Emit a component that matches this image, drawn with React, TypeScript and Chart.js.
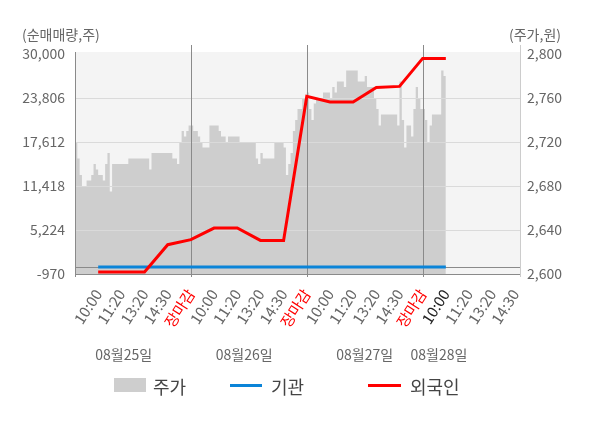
import React, { useEffect, useRef } from 'react'
import { Chart, registerables } from 'chart.js'

Chart.register(...registerables)

const FONT = "'Noto Sans CJK KR', 'Noto Sans', sans-serif"

// the x axis is split into slots: 10 slots between two time ticks
const SLOTS_PER_TICK = 10
const SLOT_COUNT = 193

const timeTicks = [
    '10:00', '11:20', '13:20', '14:30', '장마감',
    '10:00', '11:20', '13:20', '14:30', '장마감',
    '10:00', '11:20', '13:20', '14:30', '장마감',
    '10:00', '11:20', '13:20', '14:30'
]
const currentTick = 15
const dayLabels = ['08월25일', '08월26일', '08월27일', '08월28일']
const dayLabelSlots = [21, 73, 125, 157]
const daySplitSlots = [50, 100, 150]

const volumeTicks = [-970, 5224, 11418, 17612, 23806, 30000]
const priceTicks = [2600, 2640, 2680, 2720, 2760, 2800]

// 주가, one value per slot
const priceValues = [
    2720, 2705, 2690, 2680, 2680, 2685, 2685, 2690, 2700, 2695,
    2690, 2690, 2685, 2700, 2710, 2675, 2700, 2700, 2700, 2700,
    2700, 2700, 2700, 2705, 2705, 2705, 2705, 2705, 2705, 2705,
    2705, 2705, 2695, 2710, 2710, 2710, 2710, 2710, 2710, 2710,
    2710, 2710, 2705, 2705, 2700, 2720, 2730, 2725, 2730, 2735,
    2735, 2730, 2730, 2725, 2720, 2715, 2715, 2715, 2735, 2735,
    2735, 2735, 2730, 2725, 2725, 2720, 2725, 2725, 2725, 2725,
    2725, 2720, 2720, 2720, 2720, 2720, 2720, 2720, 2705, 2700,
    2710, 2705, 2705, 2705, 2705, 2705, 2720, 2720, 2720, 2720,
    2715, 2690, 2700, 2710, 2730, 2740, 2750, 2750, 2760, 2760,
    2765, 2750, 2740, 2755, 2760, 2760, 2760, 2765, 2765, 2765,
    2760, 2770, 2765, 2775, 2775, 2775, 2770, 2785, 2785, 2785,
    2785, 2785, 2775, 2775, 2775, 2780, 2770, 2770, 2770, 2760,
    2750, 2735, 2745, 2745, 2745, 2745, 2745, 2745, 2745, 2735,
    2775, 2740, 2715, 2735, 2735, 2725, 2750, 2770, 2760, 2750,
    2750, 2740, 2720, 2735, 2745, 2745, 2745, 2745, 2785, 2780,
    2780
]

// 외국인 / 기관 cumulative net volume, one value per time tick
const foreignValues = [
    -690, -690, -690, 3160, 3860, 5500, 5500, 3760,
    3760, 24030, 23240, 23240, 25300, 25440, 29380, 29380
]
const institutionValues = [
    0, 0, 0, 0, 0, 0, 0, 0,
    0, 0, 0, 0, 0, 0, 0, 0
]

const slotLabels = Array.from({ length: SLOT_COUNT }, (_, i) =>
    i > 0 && i % SLOTS_PER_TICK === 0 ? (timeTicks[i / SLOTS_PER_TICK - 1] ?? '') : ''
)

const atTicks = (values: number[]) => {
    const out: (number | null)[] = new Array(SLOT_COUNT).fill(null)
    values.forEach((v, k) => { out[(k + 1) * SLOTS_PER_TICK] = v })
    return out
}

const line = (ctx: CanvasRenderingContext2D, x1: number, y1: number, x2: number, y2: number, color: string) => {
    ctx.strokeStyle = color
    ctx.lineWidth = 1
    ctx.beginPath()
    ctx.moveTo(x1, y1)
    ctx.lineTo(x2, y2)
    ctx.stroke()
}

const decor = {
    id: 'decor',
    beforeDraw(chart: any) {
        const { ctx, chartArea: a } = chart
        ctx.save()
        ctx.fillStyle = '#f4f4f4'
        ctx.fillRect(a.left, a.top - 2, a.right - a.left, a.bottom - a.top + 2)
        ctx.restore()
    },
    afterDatasetDraw(chart: any, args: any) {
        if (args.index !== 0) return
        const { ctx, chartArea: a, scales } = chart
        const px = (v: number) => Math.round(v) + 0.5
        ctx.save()
        volumeTicks.slice(1, -1).forEach(v => {
            const y = px(scales.y.getPixelForValue(v))
            line(ctx, a.left, y, a.right, y, '#dadada')
        })
        const zero = px(scales.y.getPixelForValue(0))
        line(ctx, a.left, zero, a.right, zero, '#8a8a8a')
        daySplitSlots.forEach(s => {
            const x = px(scales.x.getPixelForValue(s))
            line(ctx, x, a.top - 9, x, a.bottom + 3, '#8a8a8a')
        })
        line(ctx, px(a.right), a.top - 9, px(a.right), a.bottom + 3, '#cccccc')
        line(ctx, px(a.left), a.top - 2, px(a.left), a.bottom + 3, '#8a8a8a')
        line(ctx, a.left, px(a.bottom), a.right, px(a.bottom), '#8a8a8a')
        ctx.restore()
    },
    afterDraw(chart: any) {
        const { ctx, scales } = chart
        ctx.save()
        ctx.textBaseline = 'middle'
        ctx.font = `14px ${FONT}`
        ctx.fillStyle = '#666'
        ctx.textAlign = 'left'
        ctx.fillText('(순매매량,주)', 22, 35)
        ctx.fillText('(주가,원)', 509, 35)
        ctx.textAlign = 'center'
        dayLabels.forEach((d, i) => {
            ctx.fillText(d, scales.x.getPixelForValue(dayLabelSlots[i]), 355)
        })

        // legend
        const ly = 385.5
        ctx.font = `18px ${FONT}`
        ctx.textAlign = 'left'
        ctx.fillStyle = '#cecece'
        ctx.fillRect(114, 378, 32, 14)
        ctx.lineWidth = 3
        ctx.strokeStyle = '#0b84d8'
        ctx.beginPath(); ctx.moveTo(230, ly); ctx.lineTo(262, ly); ctx.stroke()
        ctx.strokeStyle = '#ff0000'
        ctx.beginPath(); ctx.moveTo(368, ly); ctx.lineTo(401, ly); ctx.stroke()
        ctx.fillStyle = '#444'
        ctx.fillText('주가', 153, 387)
        ctx.fillText('기관', 271, 387)
        ctx.fillText('외국인', 410, 387)
        ctx.restore()
    }
}

const App: React.FC = () => {
    const chartRef = useRef<HTMLCanvasElement>(null)
    const chartInstance = useRef<Chart | null>(null)

    useEffect(() => {
        if (!chartRef.current) return
        const ctx = chartRef.current.getContext('2d')
        if (!ctx) return
        if (chartInstance.current) chartInstance.current.destroy()

        chartInstance.current = new Chart(ctx, {
            type: 'line',
            data: {
                labels: slotLabels,
                datasets: [
                    {
                        label: '주가',
                        data: priceValues,
                        yAxisID: 'y1',
                        stepped: true,
                        fill: 'start',
                        backgroundColor: '#cecece',
                        borderWidth: 0,
                        pointRadius: 0,
                        order: 3
                    },
                    {
                        label: '기관',
                        data: atTicks(institutionValues),
                        yAxisID: 'y',
                        borderColor: '#0b84d8',
                        borderWidth: 3,
                        pointRadius: 0,
                        spanGaps: true,
                        fill: false,
                        order: 2
                    },
                    {
                        label: '외국인',
                        data: atTicks(foreignValues),
                        yAxisID: 'y',
                        borderColor: '#ff0000',
                        borderWidth: 3,
                        pointRadius: 0,
                        spanGaps: true,
                        fill: false,
                        order: 1
                    }
                ]
            },
            options: {
                animation: false,
                responsive: true,
                maintainAspectRatio: false,
                events: [],
                layout: { padding: { top: 54, left: 0, right: 0, bottom: 0 } },
                plugins: {
                    legend: { display: false },
                    tooltip: { enabled: false }
                },
                scales: {
                    x: {
                        type: 'category',
                        offset: false,
                        grid: { display: false, drawTicks: false },
                        border: { display: false },
                        afterFit: (s: any) => { s.height = 154 },
                        ticks: {
                            autoSkip: false,
                            minRotation: 57,
                            maxRotation: 57,
                            padding: 12,
                            font: { family: FONT, size: 15 },
                            color: (c: any) => {
                                if (c.tick?.label === '장마감') return '#ff0000'
                                if (c.index === (currentTick + 1) * SLOTS_PER_TICK) return '#222'
                                return '#666'
                            }
                        }
                    },
                    y: {
                        position: 'left',
                        min: -970,
                        max: 30000,
                        grid: { display: false, drawTicks: false },
                        border: { display: false },
                        afterBuildTicks: (s: any) => { s.ticks = volumeTicks.map(v => ({ value: v })) },
                        afterFit: (s: any) => { s.width = 75 },
                        ticks: {
                            padding: 10,
                            color: '#666',
                            font: { family: FONT, size: 14 },
                            callback: (v: any) => Number(v).toLocaleString('en-US')
                        }
                    },
                    y1: {
                        position: 'right',
                        min: 2600,
                        max: 2800,
                        grid: { display: false, drawTicks: false },
                        border: { display: false },
                        afterBuildTicks: (s: any) => { s.ticks = priceTicks.map(v => ({ value: v })) },
                        afterFit: (s: any) => { s.width = 80 },
                        ticks: {
                            padding: 7,
                            color: '#666',
                            font: { family: FONT, size: 14 },
                            callback: (v: any) => Number(v).toLocaleString('en-US')
                        }
                    }
                }
            },
            plugins: [decor]
        })

        return () => {
            if (chartInstance.current) {
                chartInstance.current.destroy()
                chartInstance.current = null
            }
        }
    }, [])

    return (
        <div style={{ position: 'absolute', left: 0, top: 0, width: 600, height: 428 }}>
            <canvas ref={chartRef}></canvas>
        </div>
    )
}

export default App
